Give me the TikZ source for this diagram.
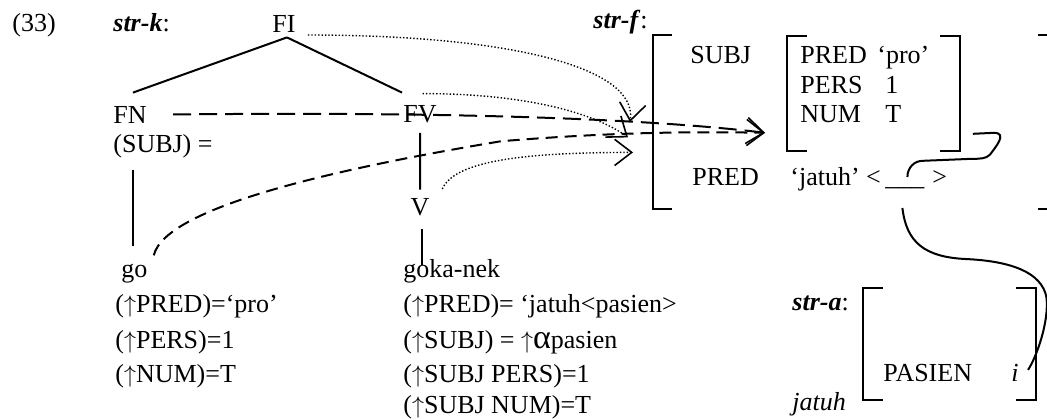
\documentclass[tikz,border=0pt]{standalone}
\usepackage{fontspec}
\setmainfont{Liberation Serif}
\usetikzlibrary{arrows.meta}
\newcommand\up{$\uparrow$}
\newcommand\avmbrackets[1]{%
  \draw[brk] ([xshift=10pt]#1.north west) -| (#1.south west) -- ++(10pt,0);
  \draw[brk] ([xshift=-10pt]#1.north east) -| (#1.south east) -- ++(-10pt,0);}

\begin{document}
\begin{tikzpicture}[x=0.5pt,y=-0.5pt,
  font=\fontsize{13}{16}\selectfont,
  every node/.style={inner sep=0pt,anchor=base west},
  avm/.style={anchor=north west},
  brk/.style={line width=1pt},
  edgeline/.style={line width=1pt},
  fsarrow/.style={-{Straight Barb[length=3mm,width=4.6mm,line width=0.8pt]}},
  proj/.style={fsarrow,line width=0.7pt,dash pattern=on 0.7pt off 1pt},
  corr/.style={fsarrow,line width=1pt,dash pattern=on 9pt off 4pt},
  bind/.style={line width=1pt}
]
\useasboundingbox (0,0) rectangle (1047,419);

% c-structure
\node (n33) at (12,31) {(33)};
\node (strk) at (113,31) {\textbf{\textit{str-k}}:};
\node (FI) at (272,32) {FI};
\node (FN) at (113,123) {FN};
\node (fnann) at (113,152) {(SUBJ) =};
\node (go) at (121,277) {go};
\node (go1) at (115,312) {(\up PRED)=‘pro’};
\node (go2) at (115,348) {(\up PERS)=1};
\node (go3) at (115,382) {(\up NUM)=T};
\node (FV) at (403,122) {FV};
\node[anchor=base] (V) at (420,215) {V};
\node (gk) at (403,277) {goka-nek};
\node (gk1) at (403,312) {(\up PRED)= ‘jatuh<pasien>};
\node (gk2) at (403,348) {(\up SUBJ) = \up{\fontsize{17}{17}\selectfont α}pasien};
\node (gk3) at (403,382) {(\up SUBJ PERS)=1};
\node (gk4) at (403,413) {(\up SUBJ NUM)=T};

\draw[edgeline] ([shift={(3,5)}]FI.south) -- ([shift={(20,-13)}]FN.north west);
\draw[edgeline] ([shift={(3,5)}]FI.south) -- ([shift={(-1,-12)}]FV.north west);
\draw[edgeline] ([shift={(20,12)}]fnann.south west) -- ([shift={(12,-17)}]go.north west);
\draw[edgeline] ([shift={(0,10)}]FV.south) -- ([shift={(0,-8)}]V.north);
\draw[edgeline] ([shift={(2,13)}]V.south) -- ([shift={(19,6)}]gk.north west);

% f-structure
\node (strf) at (593,28) {\textbf{\textit{str-f}}:};
\node[avm,minimum width=197pt,minimum height=86.5pt] (fstr) at (653,35) {};
\node (subj) at (690,63) {SUBJ};
\node[avm,minimum width=86pt,minimum height=57pt] (subjfs) at (787,36) {};
\node (pred) at (800,63) {PRED};
\node (pro) at (877,63) {‘pro’};
\node (pers) at (800,93) {PERS};
\node (one) at (885,93) {1};
\node (num) at (800,122) {NUM};
\node (tee) at (885,122) {T};
\node (predo) at (692,185) {PRED};
\node (jat) at (790,185) {‘jatuh’ <};
\node (blank) at (885,185) {\_\_\_};
\node (gt) at (932,185) {>};
\draw[brk] ([xshift=9.5pt]fstr.north west) -| (fstr.south west) -- ++(9.5pt,0);
\draw[brk] (fstr.north east) -- ++(-5pt,0) (fstr.south east) -- ++(-5pt,0);
\avmbrackets{subjfs}

% a-structure
\node (stra) at (792,310) {\textbf{\textit{str-a}}:};
\node[avm,minimum width=86pt,minimum height=55.5pt] (astr) at (863,288) {};
\node (pasien) at (883,381) {PASIEN};
\node (ii) at (1011,381) {\textit{i}};
\node (jatuh) at (792,410) {\textit{jatuh}};
\avmbrackets{astr}

% projections
\draw[proj] ([shift={(12,3)}]FI.base east) .. controls +(200,0) and +(8,-55) .. ([shift={(-23,0)}]fstr.west);
\draw[proj] ([shift={(2.5,-11)}]FV.north) .. controls +(110,0) and +(-30,-22) .. ([shift={(-25,15.5)}]fstr.west);
\draw[proj] ([shift={(12.5,-26)}]V.base east) .. controls +(12,-28) and +(-110,0) .. ([shift={(-20,30.5)}]fstr.west);
\draw[corr] ([shift={(26,0)}]FN.east) .. controls +(278,-3) and +(-115,-14) .. ([shift={(-22,-18)}]subjfs.south west);
\draw[corr,dash pattern=on 6pt off 3.5pt] ([shift={(6,-8)}]go.north east) .. controls +(12,-50) and +(-150,25) .. ++(347,-114)
  .. controls +(120,-10) and +(-60,-1) .. ([shift={(-22,-18)}]subjfs.south west);

% linking
\draw[bind] ([shift={(13,-17)}]subjfs.south east) -- ++(21,-1) .. controls +(14,0) and +(6,-8) .. ++(-4,22)
  .. controls +(-4,4) and +(8,0) .. ++(-18,4) -- ++(-49,2) .. controls +(-9,0) and +(0,-9) .. ([shift={(2.5,-8)}]blank.base);
\draw[bind] ([shift={(-2.5,23)}]blank.base) .. controls +(4,35) and +(-40,-2) .. ++(63,51)
  .. controls +(45,2) and +(-5,-25) .. ++(81,38) .. controls +(3,25) and +(8,-12) .. ([shift={(9,-2.5)}]ii.east);
\end{tikzpicture}
\end{document}
